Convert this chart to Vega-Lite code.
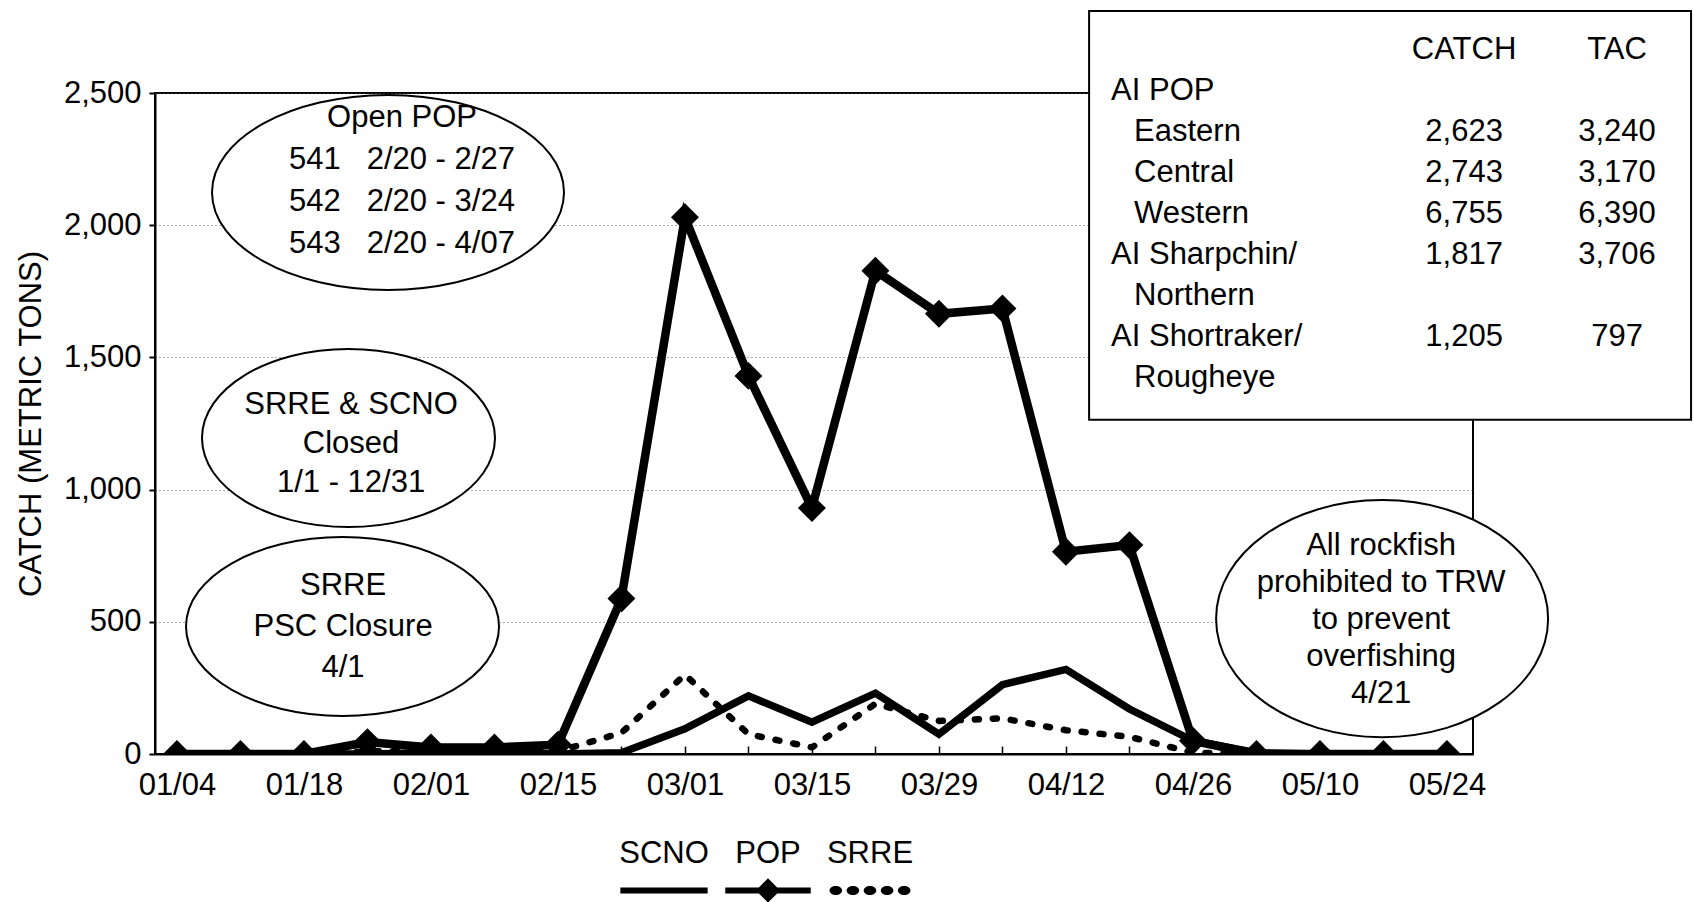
{
  "$schema": "https://vega.github.io/schema/vega-lite/v6.json",
  "width": 1318,
  "height": 661,
  "autosize": {"type": "none"},
  "padding": {"left": 155, "top": 93, "right": 221, "bottom": 148},
  "background": "white",
  "config": {
    "font": "Liberation Sans",
    "view": {"stroke": "black", "strokeWidth": 2},
    "text": {"font": "Liberation Sans", "fontSize": 31, "color": "black"}
  },
  "resolve": {"scale": {"y": "independent"}},
  "layer": [
    {
      "data": {
        "values": [
          {"date": "1997-01-04", "series": "POP", "catch": 0},
          {"date": "1997-01-11", "series": "POP", "catch": 0},
          {"date": "1997-01-18", "series": "POP", "catch": 0},
          {"date": "1997-01-25", "series": "POP", "catch": 45},
          {"date": "1997-02-01", "series": "POP", "catch": 25},
          {"date": "1997-02-08", "series": "POP", "catch": 25},
          {"date": "1997-02-15", "series": "POP", "catch": 35},
          {"date": "1997-02-22", "series": "POP", "catch": 588},
          {"date": "1997-03-01", "series": "POP", "catch": 2030},
          {"date": "1997-03-08", "series": "POP", "catch": 1430},
          {"date": "1997-03-15", "series": "POP", "catch": 930},
          {"date": "1997-03-22", "series": "POP", "catch": 1828},
          {"date": "1997-03-29", "series": "POP", "catch": 1665},
          {"date": "1997-04-05", "series": "POP", "catch": 1685},
          {"date": "1997-04-12", "series": "POP", "catch": 765},
          {"date": "1997-04-19", "series": "POP", "catch": 790},
          {"date": "1997-04-26", "series": "POP", "catch": 50},
          {"date": "1997-05-03", "series": "POP", "catch": 0},
          {"date": "1997-05-10", "series": "POP", "catch": 0},
          {"date": "1997-05-17", "series": "POP", "catch": 0},
          {"date": "1997-05-24", "series": "POP", "catch": 0},
          {"date": "1997-01-04", "series": "SCNO", "catch": 0},
          {"date": "1997-01-11", "series": "SCNO", "catch": 0},
          {"date": "1997-01-18", "series": "SCNO", "catch": 0},
          {"date": "1997-01-25", "series": "SCNO", "catch": 0},
          {"date": "1997-02-01", "series": "SCNO", "catch": 5},
          {"date": "1997-02-08", "series": "SCNO", "catch": 5},
          {"date": "1997-02-15", "series": "SCNO", "catch": 0},
          {"date": "1997-02-22", "series": "SCNO", "catch": 5},
          {"date": "1997-03-01", "series": "SCNO", "catch": 95},
          {"date": "1997-03-08", "series": "SCNO", "catch": 220},
          {"date": "1997-03-15", "series": "SCNO", "catch": 120},
          {"date": "1997-03-22", "series": "SCNO", "catch": 230},
          {"date": "1997-03-29", "series": "SCNO", "catch": 75},
          {"date": "1997-04-05", "series": "SCNO", "catch": 262},
          {"date": "1997-04-12", "series": "SCNO", "catch": 320},
          {"date": "1997-04-19", "series": "SCNO", "catch": 170},
          {"date": "1997-04-26", "series": "SCNO", "catch": 50},
          {"date": "1997-05-03", "series": "SCNO", "catch": 5},
          {"date": "1997-05-10", "series": "SCNO", "catch": 0},
          {"date": "1997-05-17", "series": "SCNO", "catch": 0},
          {"date": "1997-05-24", "series": "SCNO", "catch": 0},
          {"date": "1997-01-04", "series": "SRRE", "catch": 0},
          {"date": "1997-01-11", "series": "SRRE", "catch": 0},
          {"date": "1997-01-18", "series": "SRRE", "catch": 0},
          {"date": "1997-01-25", "series": "SRRE", "catch": 10},
          {"date": "1997-02-01", "series": "SRRE", "catch": 10},
          {"date": "1997-02-08", "series": "SRRE", "catch": 5},
          {"date": "1997-02-15", "series": "SRRE", "catch": 10},
          {"date": "1997-02-22", "series": "SRRE", "catch": 80},
          {"date": "1997-03-01", "series": "SRRE", "catch": 300},
          {"date": "1997-03-08", "series": "SRRE", "catch": 75},
          {"date": "1997-03-15", "series": "SRRE", "catch": 25},
          {"date": "1997-03-22", "series": "SRRE", "catch": 190},
          {"date": "1997-03-29", "series": "SRRE", "catch": 125},
          {"date": "1997-04-05", "series": "SRRE", "catch": 135},
          {"date": "1997-04-12", "series": "SRRE", "catch": 90},
          {"date": "1997-04-19", "series": "SRRE", "catch": 65},
          {"date": "1997-04-26", "series": "SRRE", "catch": 5},
          {"date": "1997-05-03", "series": "SRRE", "catch": 0},
          {"date": "1997-05-10", "series": "SRRE", "catch": 0},
          {"date": "1997-05-17", "series": "SRRE", "catch": 0},
          {"date": "1997-05-24", "series": "SRRE", "catch": 0}
        ]
      },
      "encoding": {
        "x": {
          "field": "date",
          "type": "temporal",
          "scale": {
            "type": "utc",
            "domain": [
              {"year": 1997, "month": 1, "date": 1, "hours": 14, "utc": true},
              {"year": 1997, "month": 5, "date": 26, "hours": 21, "utc": true}
            ]
          },
          "axis": {
            "values": [
              {"year": 1997, "month": 1, "date": 4, "utc": true},
              {"year": 1997, "month": 1, "date": 11, "utc": true},
              {"year": 1997, "month": 1, "date": 18, "utc": true},
              {"year": 1997, "month": 1, "date": 25, "utc": true},
              {"year": 1997, "month": 2, "date": 1, "utc": true},
              {"year": 1997, "month": 2, "date": 8, "utc": true},
              {"year": 1997, "month": 2, "date": 15, "utc": true},
              {"year": 1997, "month": 2, "date": 22, "utc": true},
              {"year": 1997, "month": 3, "date": 1, "utc": true},
              {"year": 1997, "month": 3, "date": 8, "utc": true},
              {"year": 1997, "month": 3, "date": 15, "utc": true},
              {"year": 1997, "month": 3, "date": 22, "utc": true},
              {"year": 1997, "month": 3, "date": 29, "utc": true},
              {"year": 1997, "month": 4, "date": 5, "utc": true},
              {"year": 1997, "month": 4, "date": 12, "utc": true},
              {"year": 1997, "month": 4, "date": 19, "utc": true},
              {"year": 1997, "month": 4, "date": 26, "utc": true},
              {"year": 1997, "month": 5, "date": 3, "utc": true},
              {"year": 1997, "month": 5, "date": 10, "utc": true},
              {"year": 1997, "month": 5, "date": 17, "utc": true},
              {"year": 1997, "month": 5, "date": 24, "utc": true}
            ],
            "labelExpr": "round((datum.value - utc(1997,0,4)) / 86400000) % 14 == 0 ? utcFormat(datum.value, '%m/%d') : ''",
            "title": null,
            "grid": false,
            "tickSize": -8,
            "tickColor": "black",
            "tickWidth": 1.5,
            "labelPadding": 24,
            "labelFontSize": 31,
            "labelFont": "Liberation Sans",
            "labelColor": "black",
            "labelFlush": false,
            "labelOverlap": false,
            "labelBound": false,
            "domainColor": "black",
            "domainWidth": 2
          }
        },
        "y": {
          "field": "catch",
          "type": "quantitative",
          "scale": {"domain": [0, 2500], "nice": false, "zero": true},
          "axis": {
            "values": [0, 500, 1000, 1500, 2000, 2500],
            "format": ",d",
            "title": "CATCH (METRIC TONS)",
            "titleFontSize": 31,
            "titleFontWeight": "normal",
            "titleFont": "Liberation Sans",
            "titleColor": "black",
            "titlePadding": 16,
            "grid": true,
            "gridColor": "#555555",
            "gridDash": [1, 3],
            "gridWidth": 1,
            "tickSize": 6,
            "tickColor": "black",
            "tickWidth": 2,
            "labelPadding": 8,
            "labelFontSize": 31,
            "labelFont": "Liberation Sans",
            "labelColor": "black",
            "labelFlush": false,
            "domainColor": "black",
            "domainWidth": 2
          }
        }
      },
      "layer": [
        {
          "transform": [{"filter": "datum.series == 'SRRE'"}],
          "mark": {"type": "line", "clip": true, "color": "black", "strokeWidth": 6.5, "strokeDash": [4, 14], "strokeCap": "round"}
        },
        {
          "transform": [{"filter": "datum.series == 'SCNO'"}],
          "mark": {"type": "line", "clip": true, "color": "black", "strokeWidth": 7.5}
        },
        {
          "transform": [{"filter": "datum.series == 'POP'"}],
          "mark": {"type": "line", "clip": true, "color": "black", "strokeWidth": 8.5}
        },
        {
          "transform": [{"filter": "datum.series == 'POP'"}],
          "mark": {"type": "point", "clip": true, "shape": "diamond", "filled": true, "color": "black", "size": 780, "opacity": 1, "strokeWidth": 0}
        },
        {
          "mark": {"type": "point", "filled": true, "color": "black", "opacity": 0},
          "encoding": {
            "shape": {
              "field": "series",
              "type": "nominal",
              "scale": {
                "domain": ["SCNO", "POP", "SRRE"],
                "range": [
                  "M0,0.174L0,0.174M0,0.714L0,0.714M-0.97,0.378L0.97,0.378L0.97,0.511L-0.97,0.511Z",
                  "M-0.95,0.378L-0.204,0.378L0,0.174L0.204,0.378L0.95,0.378L0.95,0.511L0.204,0.511L0,0.714L-0.204,0.511L-0.95,0.511Z",
                  "M0,0.174L0,0.174M0,0.714L0,0.714M-0.9,0.444C-0.9,0.389,-0.837,0.344,-0.76,0.344C-0.683,0.344,-0.62,0.389,-0.62,0.444C-0.62,0.499,-0.683,0.544,-0.76,0.544C-0.837,0.544,-0.9,0.499,-0.9,0.444ZM-0.52,0.444C-0.52,0.389,-0.457,0.344,-0.38,0.344C-0.303,0.344,-0.24,0.389,-0.24,0.444C-0.24,0.499,-0.303,0.544,-0.38,0.544C-0.457,0.544,-0.52,0.499,-0.52,0.444ZM-0.14,0.444C-0.14,0.389,-0.077,0.344,0,0.344C0.077,0.344,0.14,0.389,0.14,0.444C0.14,0.499,0.077,0.544,0,0.544C-0.077,0.544,-0.14,0.499,-0.14,0.444ZM0.24,0.444C0.24,0.389,0.303,0.344,0.38,0.344C0.457,0.344,0.52,0.389,0.52,0.444C0.52,0.499,0.457,0.544,0.38,0.544C0.303,0.544,0.24,0.499,0.24,0.444ZM0.62,0.444C0.62,0.389,0.683,0.344,0.76,0.344C0.837,0.344,0.9,0.389,0.9,0.444C0.9,0.499,0.837,0.544,0.76,0.544C0.683,0.544,0.62,0.499,0.62,0.444Z"
                ]
              },
              "legend": {
                "orient": "none",
                "legendX": 464,
                "legendY": 732,
                "direction": "horizontal",
                "title": null,
                "symbolSize": 8100,
                "labelOffset": -45,
                "labelAlign": "center",
                "labelBaseline": "bottom",
                "labelFontSize": 31,
                "labelFont": "Liberation Sans",
                "labelColor": "black",
                "labelLimit": 300,
                "columnPadding": 14,
                "symbolFillColor": "black",
                "symbolStrokeColor": "black",
                "symbolStrokeWidth": 0,
                "symbolOpacity": 1,
                "padding": 0,
                "offset": 0
              }
            }
          }
        }
      ]
    },
    {
      "data": {"values": [{"annotation": "Open POP"}]},
      "mark": {"type": "point", "shape": "M-1,0C-1,-0.306,-0.5523,-0.554,0,-0.554C0.5523,-0.554,1,-0.306,1,0C1,0.306,0.5523,0.554,0,0.554C-0.5523,0.554,-1,0.306,-1,0Z", "size": 123904, "filled": true, "fill": "white", "stroke": "black", "strokeWidth": 2, "opacity": 1},
      "encoding": {
        "x": {"datum": {"year": 1997, "month": 1, "date": 27, "hours": 6, "minutes": 28, "utc": true}, "type": "temporal"},
        "y": {"datum": 2124, "type": "quantitative", "scale": {"domain": [0, 2500], "nice": false}, "axis": null}
      }
    },
    {
      "data": {"values": [{"annotation": "SRRE & SCNO Closed"}]},
      "mark": {"type": "point", "shape": "M-1,0C-1,-0.3358,-0.5523,-0.608,0,-0.608C0.5523,-0.608,1,-0.3358,1,0C1,0.3358,0.5523,0.608,0,0.608C-0.5523,0.608,-1,0.3358,-1,0Z", "size": 85849, "filled": true, "fill": "white", "stroke": "black", "strokeWidth": 2, "opacity": 1},
      "encoding": {
        "x": {"datum": {"year": 1997, "month": 1, "date": 22, "hours": 21, "minutes": 55, "utc": true}, "type": "temporal"},
        "y": {"datum": 1195, "type": "quantitative", "scale": {"domain": [0, 2500], "nice": false}, "axis": null}
      }
    },
    {
      "data": {"values": [{"annotation": "SRRE PSC Closure"}]},
      "mark": {"type": "point", "shape": "M-1,0C-1,-0.3159,-0.5523,-0.572,0,-0.572C0.5523,-0.572,1,-0.3159,1,0C1,0.3159,0.5523,0.572,0,0.572C-0.5523,0.572,-1,0.3159,-1,0Z", "size": 97969, "filled": true, "fill": "white", "stroke": "black", "strokeWidth": 2, "opacity": 1},
      "encoding": {
        "x": {"datum": {"year": 1997, "month": 1, "date": 22, "hours": 6, "minutes": 6, "utc": true}, "type": "temporal"},
        "y": {"datum": 482, "type": "quantitative", "scale": {"domain": [0, 2500], "nice": false}, "axis": null}
      }
    },
    {
      "data": {"values": [{"annotation": "All rockfish prohibited"}]},
      "mark": {"type": "point", "shape": "M-1,0C-1,-0.3943,-0.5523,-0.714,0,-0.714C0.5523,-0.714,1,-0.3943,1,0C1,0.3943,0.5523,0.714,0,0.714C-0.5523,0.714,-1,0.3943,-1,0Z", "size": 110224, "filled": true, "fill": "white", "stroke": "black", "strokeWidth": 2, "opacity": 1},
      "encoding": {
        "x": {"datum": {"year": 1997, "month": 5, "date": 16, "hours": 20, "minutes": 30, "utc": true}, "type": "temporal"},
        "y": {"datum": 512, "type": "quantitative", "scale": {"domain": [0, 2500], "nice": false}, "axis": null}
      }
    },
    {
      "data": {"values": [{"annotation": "Open POP"}]},
      "mark": {"type": "text", "text": ["Open POP", "541\u00a0\u00a0\u00a02/20 - 2/27", "542\u00a0\u00a0\u00a02/20 - 3/24", "543\u00a0\u00a0\u00a02/20 - 4/07"], "lineHeight": 42, "align": "center", "baseline": "middle", "fontSize": 31, "color": "black"},
      "encoding": {
        "x": {"datum": {"year": 1997, "month": 1, "date": 28, "hours": 19, "minutes": 30, "utc": true}, "type": "temporal"},
        "y": {"datum": 2405, "type": "quantitative", "scale": {"domain": [0, 2500], "nice": false}, "axis": null}
      }
    },
    {
      "data": {"values": [{"annotation": "SRRE & SCNO Closed"}]},
      "mark": {"type": "text", "text": ["SRRE & SCNO", "Closed", "1/1 - 12/31"], "lineHeight": 39, "align": "center", "baseline": "middle", "fontSize": 31, "color": "black"},
      "encoding": {
        "x": {"datum": {"year": 1997, "month": 1, "date": 23, "hours": 4, "minutes": 38, "utc": true}, "type": "temporal"},
        "y": {"datum": 1320, "type": "quantitative", "scale": {"domain": [0, 2500], "nice": false}, "axis": null}
      }
    },
    {
      "data": {"values": [{"annotation": "SRRE PSC Closure"}]},
      "mark": {"type": "text", "text": ["SRRE", "PSC Closure", "4/1"], "lineHeight": 41, "align": "center", "baseline": "middle", "fontSize": 31, "color": "black"},
      "encoding": {
        "x": {"datum": {"year": 1997, "month": 1, "date": 22, "hours": 7, "minutes": 30, "utc": true}, "type": "temporal"},
        "y": {"datum": 635, "type": "quantitative", "scale": {"domain": [0, 2500], "nice": false}, "axis": null}
      }
    },
    {
      "data": {"values": [{"annotation": "All rockfish prohibited"}]},
      "mark": {"type": "text", "text": ["All rockfish", "prohibited to TRW", "to prevent", "overfishing", "4/21"], "lineHeight": 37, "align": "center", "baseline": "middle", "fontSize": 31, "color": "black"},
      "encoding": {
        "x": {"datum": {"year": 1997, "month": 5, "date": 16, "hours": 17, "minutes": 50, "utc": true}, "type": "temporal"},
        "y": {"datum": 787, "type": "quantitative", "scale": {"domain": [0, 2500], "nice": false}, "axis": null}
      }
    },
    {
      "data": {
        "values": [
          {"line": 0, "level": 0, "label": "", "catch": "CATCH", "tac": "TAC"},
          {"line": 1, "level": 0, "label": "AI POP", "catch": "", "tac": ""},
          {"line": 2, "level": 1, "label": "Eastern", "catch": "2,623", "tac": "3,240"},
          {"line": 3, "level": 1, "label": "Central", "catch": "2,743", "tac": "3,170"},
          {"line": 4, "level": 1, "label": "Western", "catch": "6,755", "tac": "6,390"},
          {"line": 5, "level": 0, "label": "AI Sharpchin/", "catch": "1,817", "tac": "3,706"},
          {"line": 6, "level": 1, "label": "Northern", "catch": "", "tac": ""},
          {"line": 7, "level": 0, "label": "AI Shortraker/", "catch": "1,205", "tac": "797"},
          {"line": 8, "level": 1, "label": "Rougheye", "catch": "", "tac": ""}
        ]
      },
      "layer": [
        {
          "data": {"values": [{"box": "AI rockfish catch and TAC"}]},
          "mark": {"type": "rect", "fill": "white", "stroke": "black", "strokeWidth": 2},
          "encoding": {
            "x": {"datum": {"year": 1997, "month": 4, "date": 14, "hours": 13, "minutes": 20, "utc": true}, "type": "temporal"},
            "x2": {"datum": {"year": 1997, "month": 6, "date": 19, "hours": 21, "minutes": 55, "utc": true}},
            "y": {"datum": -0.95, "type": "quantitative", "scale": {"domain": [1.0488, 17.171], "reverse": true, "nice": false, "zero": false}, "axis": null},
            "y2": {"datum": 9.02}
          }
        },
        {
          "transform": [{"filter": "datum.level == 0"}],
          "mark": {"type": "text", "align": "left", "baseline": "middle", "fontSize": 31, "color": "black"},
          "encoding": {
            "x": {"datum": {"year": 1997, "month": 4, "date": 16, "hours": 23, "minutes": 24, "utc": true}, "type": "temporal"},
            "y": {"field": "line", "type": "quantitative", "axis": null},
            "text": {"field": "label"}
          }
        },
        {
          "transform": [{"filter": "datum.level == 1"}],
          "mark": {"type": "text", "align": "left", "baseline": "middle", "fontSize": 31, "color": "black"},
          "encoding": {
            "x": {"datum": {"year": 1997, "month": 4, "date": 19, "hours": 12, "minutes": 20, "utc": true}, "type": "temporal"},
            "y": {"field": "line", "type": "quantitative", "axis": null},
            "text": {"field": "label"}
          }
        },
        {
          "mark": {"type": "text", "align": "center", "baseline": "middle", "fontSize": 31, "color": "black"},
          "encoding": {
            "x": {"datum": {"year": 1997, "month": 5, "date": 25, "hours": 21, "minutes": 24, "utc": true}, "type": "temporal"},
            "y": {"field": "line", "type": "quantitative", "axis": null},
            "text": {"field": "catch"}
          }
        },
        {
          "mark": {"type": "text", "align": "center", "baseline": "middle", "fontSize": 31, "color": "black"},
          "encoding": {
            "x": {"datum": {"year": 1997, "month": 6, "date": 11, "hours": 18, "minutes": 6, "utc": true}, "type": "temporal"},
            "y": {"field": "line", "type": "quantitative", "axis": null},
            "text": {"field": "tac"}
          }
        }
      ]
    }
  ]
}
